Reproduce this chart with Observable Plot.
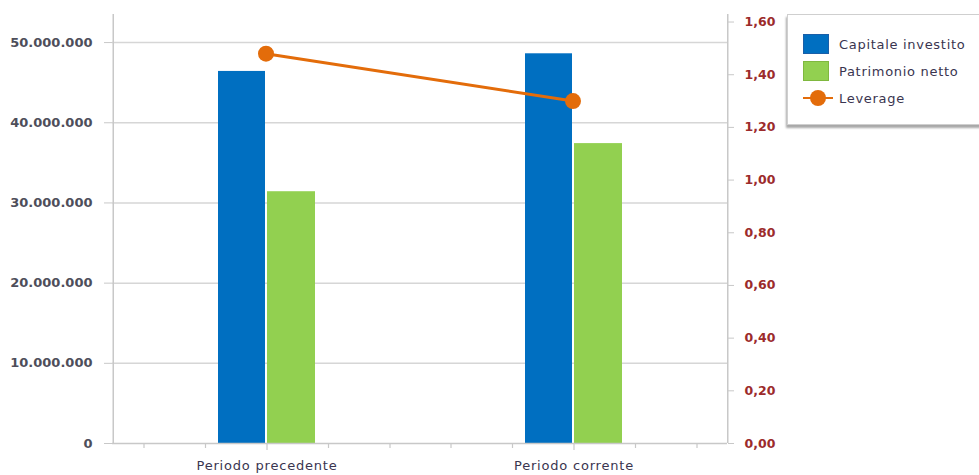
<!DOCTYPE html>
<html>
<head>
<meta charset="utf-8">
<script src="https://cdn.jsdelivr.net/npm/d3@7"></script>
<script src="https://cdn.jsdelivr.net/npm/@observablehq/plot@0.6"></script>
<style>
  html, body { margin: 0; padding: 0; background: #fff; }
  #wrap { position: relative; width: 979px; height: 475px; overflow: hidden; font-family: "DejaVu Sans", sans-serif; }
  #legend { position: absolute; left: 787px; top: 14px; width: 220px; height: 111px; border: 1px solid #cfcfcf; background: #fff; box-shadow: -1px 3px 2px #a8a8a8; box-sizing: border-box; }
  .item { position: absolute; left: 15px; height: 22px; display: flex; align-items: center; font-size: 13px; letter-spacing: 0.7px; color: #3a3550; white-space: nowrap; }
  .sw { width: 26px; height: 20px; margin-right: 10px; box-sizing: border-box; }
  .ln { position: relative; width: 30px; height: 20px; margin-right: 6px; }
</style>
</head>
<body>
<div id="wrap"><div id="legend"></div></div>
<script>
// ---- data ----
const periods = ["Periodo precedente", "Periodo corrente"];
const capitaleInvestito = [46.4e6, 48.6e6];
const patrimonioNetto = [31.4e6, 37.4e6];
const leverage = [1.48, 1.30];
const seriesNames = ["Capitale investito", "Patrimonio netto", "Leverage"];
const seriesColors = ["#006fc1", "#92d050", "#e36c0a"];
const leftTicks = [0, 10e6, 20e6, 30e6, 40e6, 50e6];
const rightTicks = [0, 0.2, 0.4, 0.6, 0.8, 1.0, 1.2, 1.4, 1.6];

// ---- layout constants ----
const W = 979, H = 475;
const mL = 112, mR = 252, mT = 14, mB = 32;
const yMax = 53.5e6;
const k = 32.85e6; // leverage 1.0 on right axis == k on left axis
const bw = (W - mL - mR) / periods.length;

const loc = d3.formatLocale({decimal: ",", thousands: ".", grouping: [3], currency: ["", " €"]});
const fmtInt = loc.format(",d");
const fmtDec = loc.format(".2f");

const bars1 = periods.map((p, i) => ({period: p, value: capitaleInvestito[i]}));
const bars2 = periods.map((p, i) => ({period: p, value: patrimonioNetto[i]}));
const lev = periods.map((p, i) => ({period: p, value: leverage[i] * k}));

// minor ticks
const leftMinor = d3.range(0, yMax, 10e6 / 3);
const rightMinor = d3.range(0, yMax / k, 0.2 / 3).map(v => v * k);
const rightMajor = rightTicks.map(v => v * k);

const gridColor = "#d6d6d6";
const axisColor = "#c8c8c8";
const leftLabel = "#4e4e5a";
const rightLabel = "#9c2b2b";

const marks = [
  // gridlines
  Plot.ruleY(leftTicks.slice(1), {stroke: gridColor, strokeWidth: 1.5}),
  // bars
  Plot.barY(bars1, {x: "period", y: "value", fill: seriesColors[0], insetLeft: 105, insetRight: 155}),
  Plot.barY(bars2, {x: "period", y: "value", fill: seriesColors[1], insetLeft: 154, insetRight: 105}),
  // axis lines
  Plot.ruleX([periods[0]], {dx: -bw / 2, y1: 0, y2: yMax, stroke: axisColor, strokeWidth: 1.5}),
  Plot.ruleX([periods[periods.length - 1]], {dx: bw / 2, y1: 0, y2: yMax, stroke: axisColor, strokeWidth: 1.5}),
  Plot.ruleY([0], {stroke: axisColor, strokeWidth: 1.5}),
  // line series
  Plot.line(lev, {x: "period", y: "value", stroke: seriesColors[2], strokeWidth: 3, dx: -1}),
  Plot.dot(lev, {x: "period", y: "value", r: 8, fill: seriesColors[2], stroke: null, dx: -1}),
  // axes
  Plot.axisY(leftTicks, {anchor: "left", label: null, tickSize: 8, tickPadding: 12, tickFormat: fmtInt, fill: leftLabel, stroke: axisColor, fontWeight: "bold", fontSize: 13}),
  Plot.axisY(rightMajor, {anchor: "right", label: null, tickSize: 6, tickPadding: 11, tickFormat: v => fmtDec(v / k), fill: rightLabel, stroke: axisColor, fontWeight: "bold", fontSize: 12.5}),
  Plot.axisX(periods, {anchor: "bottom", label: null, tickSize: 0, tickPadding: 17, fill: "#3a3550", fontSize: 13})
];

// bottom minor ticks
[-2, -1, 1, 2].forEach(j => {
  marks.push(Plot.ruleX(periods, {dx: j * bw / 5, y1: 0, y2: 0, stroke: axisColor, strokeWidth: 1.2, insetBottom: -5}));
});
marks.push(Plot.ruleX(periods, {y1: 0, y2: 0, stroke: axisColor, strokeWidth: 1.2, insetBottom: -7}));
// left minor ticks
marks.push(Plot.ruleY(leftMinor, {x1: periods[0], x2: periods[0], dx: -bw / 2, insetLeft: -5, stroke: axisColor, strokeWidth: 1.2}));
// right minor ticks
marks.push(Plot.ruleY(rightMinor, {x1: periods[1], x2: periods[1], dx: bw / 2, insetRight: -4, stroke: axisColor, strokeWidth: 1.2}));

const chart = Plot.plot({
  width: W, height: H,
  marginLeft: mL, marginRight: mR, marginTop: mT, marginBottom: mB,
  x: {type: "band", domain: periods, padding: 0, axis: null},
  y: {domain: [0, yMax], axis: null},
  style: {fontFamily: "DejaVu Sans, sans-serif", fontSize: "12.5px", background: "#fff"},
  marks
});
chart.style.position = "absolute";
chart.style.left = "0px";
chart.style.top = "0px";
// letter spacing for category labels
chart.querySelectorAll("[aria-label='x-axis tick label'] text").forEach(t => t.setAttribute("letter-spacing", "0.8"));
document.getElementById("wrap").prepend(chart);

// legend
const legend = document.getElementById("legend");
seriesNames.forEach((name, i) => {
  const it = document.createElement("div");
  it.className = "item";
  it.style.top = (18 + i * 27) + "px";
  if (i < 2) {
    const sw = document.createElement("div");
    sw.className = "sw";
    sw.style.background = seriesColors[i];
    sw.style.border = "1px solid " + (i === 0 ? "#1a5fa8" : "#7fb83f");
    it.appendChild(sw);
  } else {
    const ln = document.createElement("div");
    ln.className = "ln";
    ln.innerHTML = `<svg width="30" height="20"><line x1="0" y1="10" x2="30" y2="10" stroke="${seriesColors[i]}" stroke-width="2"/><circle cx="15" cy="10" r="8" fill="${seriesColors[i]}"/></svg>`;
    it.appendChild(ln);
  }
  const t = document.createElement("span");
  t.textContent = name;
  it.appendChild(t);
  legend.appendChild(it);
});
</script>
</body>
</html>
